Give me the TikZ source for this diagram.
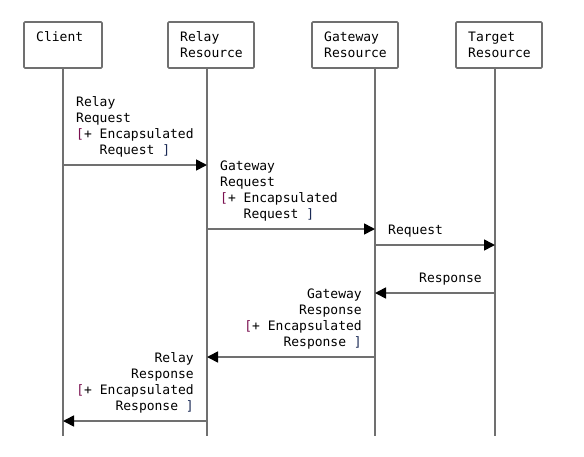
\documentclass[tikz,border=0pt]{standalone}
\usepackage{fontspec}
\setmonofont{DejaVu Sans Mono}
\usetikzlibrary{arrows.meta}
\definecolor{ln}{HTML}{707070}
\definecolor{lb}{HTML}{7A1050}
\definecolor{rb}{HTML}{1A2A55}
\begin{document}
\begin{tikzpicture}[x=1pt,y=-1pt,
  font=\ttfamily\fontsize{13}{16}\selectfont,
  box/.style={draw=ln, line width=1.6pt, rounded corners=1pt, minimum width=86pt, minimum height=46pt, inner sep=0pt},
  life/.style={draw=ln, line width=1.6pt},
  msg/.style={draw=ln, line width=1.6pt, -{Triangle[length=11pt,width=11pt,color=black]}},
  boxtext/.style={inner sep=0pt, align=left, anchor=base west},
  lbl/.style={inner sep=0pt, align=left, anchor=base west},
  lblr/.style={inner sep=0pt, align=right, anchor=base east}]
\useasboundingbox (0,0) rectangle (584,456);

% participants
\node[box, minimum width=78pt] (client) at (63,45) {};
\node[box] (relay) at (211,45) {};
\node[box] (gateway) at (355,45) {};
\node[box] (target) at (499,45) {};

% (anchor base = baseline of the last line)
\node[boxtext] (tclient) at (36,41) {Client};
\node[boxtext] (trelay) at (180,57) {Relay\\Resource};
\node[boxtext] (tgateway) at (324,57) {Gateway\\Resource};
\node[boxtext] (ttarget) at (468,57) {Target\\Resource};

% lifeline ends
\coordinate (cend) at (63,436);
\coordinate (rend) at (207,436);
\coordinate (gend) at (375,436);
\coordinate (tend) at (495,436);

\draw[life] (63,69) -- (cend);
\draw[life] (207,69) -- (rend);
\draw[life] (375,69) -- (gend);
\draw[life] (495,69) -- (tend);

% message points
\coordinate (c1) at (63,165);  \coordinate (r1) at (207,165);
\coordinate (r2) at (207,229); \coordinate (g2) at (375,229);
\coordinate (g3) at (375,245); \coordinate (t3) at (495,245);
\coordinate (t4) at (495,293); \coordinate (g4) at (375,293);
\coordinate (g5) at (375,357); \coordinate (r5) at (207,357);
\coordinate (r6) at (207,421); \coordinate (c6) at (63,421);

\draw[msg] (c1) -- (r1);
\draw[msg] (r2) -- (g2);
\draw[msg] (g3) -- (t3);
\draw[msg] (t4) -- (g4);
\draw[msg] (g5) -- (r5);
\draw[msg] (r6) -- (c6);

% labels
\node[lbl] (l1) at (76,154) {Relay\\Request\\\textcolor{lb}{[}+ Encapsulated\\\hspace*{1.806em}Request \textcolor{rb}{]}};
\node[lbl] (l2) at (220,218) {Gateway\\Request\\\textcolor{lb}{[}+ Encapsulated\\\hspace*{1.806em}Request \textcolor{rb}{]}};
\node[lbl] (l3) at (388,234) {Request};
\node[lblr] (l4) at (482,282) {Response};
\node[lblr] (l5) at (362,346) {Gateway\\Response\\\textcolor{lb}{[}+ Encapsulated\\Response \textcolor{rb}{]}};
\node[lblr] (l6) at (194,410) {Relay\\Response\\\textcolor{lb}{[}+ Encapsulated\\Response \textcolor{rb}{]}};
\end{tikzpicture}
\end{document}
